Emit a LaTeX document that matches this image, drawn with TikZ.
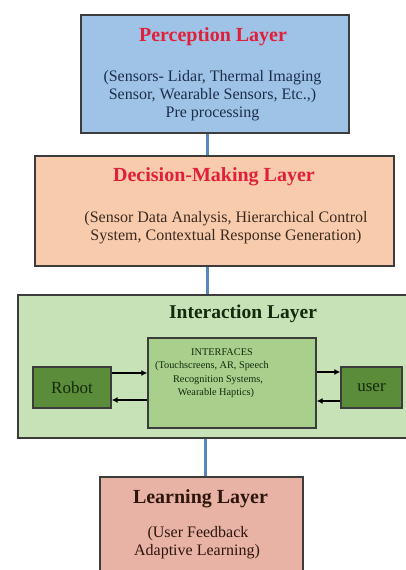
\documentclass[tikz,border=0pt]{standalone}
\usepackage{fontspec}
\setmainfont{Liberation Serif}
\usetikzlibrary{arrows.meta}
\definecolor{percfill}{HTML}{9FC3E6}
\definecolor{decfill}{HTML}{F8CBAD}
\definecolor{intfill}{HTML}{C8E2B8}
\definecolor{iffill}{HTML}{A8D08C}
\definecolor{agentfill}{HTML}{5A8C3A}
\definecolor{learnfill}{HTML}{E8B2A4}
\definecolor{boxline}{HTML}{3C3C3C}
\definecolor{conn}{HTML}{5A86C0}
\definecolor{titlered}{HTML}{E0203A}
\definecolor{percbody}{HTML}{1C2E4A}
\definecolor{decbody}{HTML}{3A2A20}
\definecolor{greentext}{HTML}{142A0C}
\definecolor{learntext}{HTML}{2E160C}
\tikzset{
  layerbox/.style={draw=boxline, line width=1.3pt, inner sep=0pt},
  ttl/.style={anchor=base, inner sep=0pt, font=\fontsize{20}{22}\selectfont\bfseries},
  bodytxt/.style={anchor=base, inner sep=0pt, align=center, font=\fontsize{16}{18}\selectfont},
  smalltxt/.style={anchor=base, inner sep=0pt, align=center, font=\fontsize{10.3}{13.5}\selectfont, text=greentext},
  connector/.style={draw=conn, line width=3pt},
  flow/.style={draw=black, line width=1.2pt, -{Latex[length=6pt,width=6pt]}}
}
\begin{document}
\begin{tikzpicture}[x=1pt,y=-1pt]
\useasboundingbox[fill=white] (0,0) rectangle (406,570);
% boxes
\node[layerbox, fill=percfill, minimum width=268pt, minimum height=118pt] (perc) at (215,74) {};
\node[layerbox, fill=decfill, minimum width=359pt, minimum height=110pt] (dec) at (214.5,211) {};
\node[layerbox, fill=intfill, minimum width=390pt, minimum height=143pt] (inter) at (213,366.5) {};
\node[layerbox, fill=iffill, minimum width=168pt, minimum height=90pt] (intf) at (232,383) {};
\node[layerbox, fill=agentfill, minimum width=78pt, minimum height=41pt] (robot) at (72,387.5) {};
\node[layerbox, fill=agentfill, minimum width=61pt, minimum height=41pt] (user) at (371.5,387.5) {};
\node[layerbox, fill=learnfill, minimum width=203pt, minimum height=100pt] (learn) at (201.5,527) {};
% texts
\node[ttl, text=titlered] (perct) at (213,41) {Perception Layer};
\node[bodytxt, text=percbody] (perc1) at (212.5,81) {(Sensors- Lidar, Thermal Imaging};
\node[bodytxt, text=percbody] (perc2) at (212.5,99) {Sensor, Wearable Sensors, Etc.,)};
\node[bodytxt, text=percbody] (perc3) at (212.5,117) {Pre processing};
\node[ttl, text=titlered] (dect) at (214,181) {Decision-Making Layer};
\node[bodytxt, text=decbody] (dec1) at (226,222) {(Sensor Data Analysis, Hierarchical Control};
\node[bodytxt, text=decbody] (dec2) at (226,240) {System, Contextual Response Generation)};
\node[ttl, text=greentext, font=\fontsize{19.5}{22}\selectfont\bfseries] (intt) at (243,318) {Interaction Layer};
\node[smalltxt] (if1) at (222,355) {INTERFACES};
\node[smalltxt] (if2) at (212,368.5) {(Touchscreens, AR, Speech};
\node[smalltxt] (if3) at (218,382) {Recognition Systems,};
\node[smalltxt] (if4) at (216,395.5) {Wearable Haptics)};
\node[anchor=center, inner sep=0pt, font=\fontsize{17}{19}\selectfont, text=greentext] (robott) at (robot) {Robot};
\node[anchor=center, inner sep=0pt, font=\fontsize{17}{19}\selectfont, text=greentext] (usert) at (user) {user};
\node[ttl, text=learntext] (learnt) at (200.5,503) {Learning Layer};
\node[bodytxt, text=learntext] (learn1) at (198,537) {(User Feedback};
\node[bodytxt, text=learntext] (learn2) at (197,555) {Adaptive Learning)};
% connectors between layers
\coordinate (c1) at (207,0);
\coordinate (c3) at (205,0);
\draw[connector] (perc.south -| c1) -- (dec.north -| c1);
\draw[connector] (dec.south -| c1) -- (inter.north -| c1);
\draw[connector] (inter.south -| c3) -- (learn.north -| c3);
% interaction flows
\draw[flow] ([yshift=14.5pt]robot.east) -- ([yshift=14.5pt]robot.east -| intf.west);
\draw[flow] ([yshift=-12.5pt]robot.east -| intf.west) -- ([yshift=-12.5pt]robot.east);
\draw[flow] ([yshift=15.5pt]user.west -| intf.east) -- ([yshift=15.5pt]user.west);
\draw[flow] ([yshift=-13.5pt]user.west) -- ([yshift=-13.5pt]user.west -| intf.east);
\end{tikzpicture}
\end{document}
